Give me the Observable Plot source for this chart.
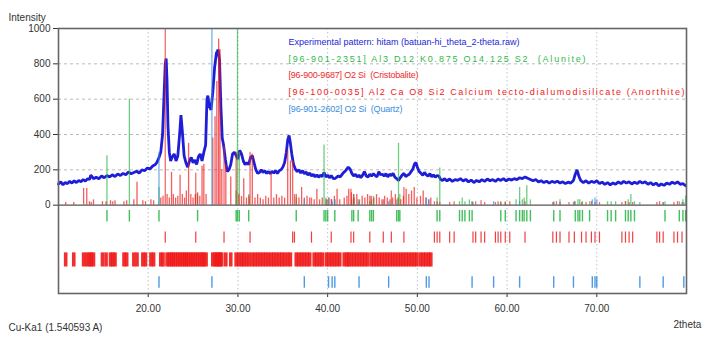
<!DOCTYPE html>
<html>
<head>
<meta charset="utf-8">
<script src="https://cdn.jsdelivr.net/npm/d3@7"></script>
<script src="https://cdn.jsdelivr.net/npm/@observablehq/plot@0.6"></script>
<style>
  body { margin: 0; background: #fff; }
  #chart { width: 708px; height: 340px; }
</style>
</head>
<body>
<div id="chart"></div>
<script>
// ---- data ----
const experimental = [
  [10.0,120],[10.25,132],[10.5,115],[10.75,128],[11.0,122],[11.25,135],[11.5,125],[11.75,138],[12.0,128],[12.25,140],
  [12.5,132],[12.75,145],[13.0,136],[13.25,150],[13.45,145],[13.6,170],[13.9,150],[14.2,158],[14.5,150],[14.8,165],
  [15.1,155],[15.4,168],[15.7,160],[16.0,172],[16.3,162],[16.6,176],[16.9,168],[17.2,180],[17.5,172],[17.8,188],
  [18.1,178],[18.4,185],[18.7,192],[19.0,182],[19.3,200],[19.6,195],[19.9,210],[20.2,205],[20.5,222],[20.8,230],
  [21.0,245],[21.2,270],[21.4,300],[21.6,400],[21.75,600],[21.9,800],[22.0,830],[22.1,700],[22.2,450],[22.35,300],
  [22.5,250],[22.7,275],[22.9,290],[23.1,250],[23.3,280],[23.5,400],[23.65,510],[23.8,420],[24.0,280],[24.2,240],
  [24.4,215],[24.6,250],[24.8,270],[25.0,240],[25.2,255],[25.4,230],[25.6,275],[25.8,290],[26.0,250],[26.2,300],
  [26.4,340],[26.55,600],[26.65,620],[26.8,560],[27.0,540],[27.2,640],[27.4,780],[27.6,860],[27.8,880],[27.95,820],
  [28.1,560],[28.25,380],[28.4,340],[28.6,260],[28.8,190],[29.0,200],[29.2,230],[29.4,290],[29.6,300],[29.8,280],
  [30.0,260],[30.2,310],[30.4,290],[30.6,250],[30.8,230],[31.0,240],[31.2,230],[31.4,270],[31.6,280],[31.8,240],
  [32.0,200],[32.2,180],[32.4,185],[32.6,200],[32.8,185],[33.0,195],[33.2,180],[33.4,190],[33.6,178],[33.8,192],
  [34.0,182],[34.2,195],[34.4,180],[34.6,195],[34.8,200],[35.0,215],[35.2,240],[35.4,300],[35.55,370],[35.7,395],
  [35.85,350],[36.0,290],[36.2,230],[36.4,205],[36.6,190],[36.8,200],[37.0,182],[37.2,195],[37.4,178],[37.6,188],
  [37.8,170],[38.0,182],[38.2,165],[38.4,175],[38.6,160],[38.8,172],[39.0,158],[39.2,170],[39.4,162],[39.6,185],
  [39.8,160],[40.0,170],[40.2,155],[40.4,168],[40.6,152],[40.8,150],[41.0,158],[41.2,165],[41.4,160],[41.7,180],
  [42.0,195],[42.3,215],[42.5,205],[42.7,180],[42.9,165],[43.1,175],[43.3,160],[43.5,170],[43.7,155],[43.9,170],
  [44.1,190],[44.3,165],[44.5,160],[44.7,175],[44.9,165],[45.1,178],[45.3,168],[45.5,160],[45.7,190],[45.9,172],
  [46.1,175],[46.3,165],[46.5,178],[46.7,160],[46.9,175],[47.1,168],[47.3,180],[47.5,158],[47.7,150],[47.9,140],
  [48.1,155],[48.3,170],[48.5,180],[48.7,162],[48.9,170],[49.1,175],[49.3,190],[49.5,205],[49.7,235],[49.85,240],
  [50.0,215],[50.2,190],[50.4,180],[50.6,170],[50.8,185],[51.0,172],[51.2,165],[51.4,178],[51.6,160],[51.8,172],
  [52.0,158],[52.2,168],[52.4,165],[52.6,145],[52.8,140],[53.0,150],[53.3,138],[53.6,148],[53.9,135],[54.2,145],
  [54.5,140],[54.8,150],[55.1,137],[55.4,146],[55.7,132],[56.0,142],[56.3,128],[56.6,140],[56.9,132],[57.2,145],
  [57.5,135],[57.8,148],[58.1,138],[58.4,145],[58.7,135],[59.0,148],[59.3,140],[59.6,150],[59.9,138],[60.2,148],
  [60.5,142],[60.8,150],[61.1,145],[61.4,155],[61.7,150],[62.0,160],[62.3,152],[62.6,145],[62.9,138],[63.2,145],
  [63.5,132],[63.8,138],[64.1,128],[64.4,136],[64.7,125],[65.0,135],[65.3,128],[65.6,136],[65.9,125],[66.2,132],
  [66.5,122],[66.8,130],[67.1,125],[67.4,140],[67.6,175],[67.8,200],[68.0,165],[68.2,140],[68.5,128],[68.8,138],
  [69.1,125],[69.4,135],[69.7,128],[70.0,138],[70.3,122],[70.6,130],[70.9,118],[71.2,128],[71.5,115],[71.8,126],
  [72.1,118],[72.4,132],[72.7,122],[73.0,135],[73.3,125],[73.6,132],[73.9,120],[74.2,130],[74.5,122],[74.8,135],
  [75.1,125],[75.4,132],[75.7,118],[76.0,128],[76.3,115],[76.6,125],[76.9,110],[77.2,120],[77.5,112],[77.8,125],
  [78.1,118],[78.4,130],[78.7,122],[79.0,132],[79.3,118],[79.6,122],[79.9,110]
];

// reference patterns: [2theta, relative intensity]
const alunite = [
  [15.4,280],[17.9,600],[21.2,100],[25.5,60],[29.8,80],[29.95,1000],[30.15,300],[31.2,60],[36.5,40],[39.6,340],
  [39.8,40],[40.0,30],[40.8,30],[42.7,30],[42.9,60],[43.4,30],[44.7,20],[44.9,30],[45.1,50],[47.7,30],
  [47.9,350],[48.05,60],[52.2,40],[52.5,210],[54.7,20],[55.0,40],[55.3,20],[55.8,30],[56.1,20],[59.3,20],
  [59.8,20],[61.0,30],[61.4,100],[61.7,30],[61.9,40],[62.2,110],[62.6,30],[65.2,20],[65.9,30],[67.6,20],
  [67.9,30],[68.1,30],[68.4,20],[69.2,20],[71.2,20],[71.6,20],[72.1,20],[73.2,20],[73.5,30],[73.8,60],
  [74.2,20],[77.6,20],[79.2,20],[79.6,30],[79.9,50]
];
const cristobalite = [
  [21.9,1000],[25.3,180],[28.45,330],[31.35,300],[36.1,250],[36.3,60],[38.2,40],[40.4,30],[42.6,90],[42.9,60],
  [44.7,50],[46.2,30],[47.1,80],[48.5,100],[51.9,20],[52.2,20],[52.5,15],[53.6,15],[54.1,20],[56.2,15],
  [56.5,20],[57.1,25],[57.5,15],[58.7,15],[59.0,20],[59.3,15],[59.8,15],[60.3,20],[62.0,20],[65.1,15],
  [65.5,20],[65.9,15],[66.9,15],[67.5,20],[68.3,15],[68.8,15],[69.4,20],[69.8,15],[70.3,15],[72.8,15],
  [73.2,20],[73.6,15],[74.0,15],[76.7,15],[77.0,20],[77.4,15],[78.6,15],[79.0,20],[79.5,15]
];
const anorthite = [
  [10.8,15],[11.7,15],[12.8,95],[13.15,95],[13.45,20],[13.65,15],[13.9,30],[14.9,20],[15.3,20],[15.8,25],
  [16.05,20],[16.3,25],[17.3,20],[17.6,25],[18.4,30],[18.75,130],[19.4,25],[19.7,20],[20.3,30],[20.6,25],
  [21.4,40],[21.65,50],[22.1,60],[22.35,40],[22.6,185],[22.8,60],[23.05,40],[23.3,50],[23.55,170],[23.8,60],
  [24.05,40],[24.25,80],[24.5,350],[24.75,60],[25.0,40],[25.25,60],[25.5,70],[25.75,50],[26.0,220],[26.2,230],
  [26.45,60],[27.2,380],[27.45,500],[27.65,700],[27.85,940],[28.0,880],[28.2,200],[28.65,230],[29.2,160],[29.8,300],
  [30.1,60],[30.4,50],[30.65,150],[30.95,40],[31.25,50],[31.6,290],[31.9,40],[32.2,60],[32.5,40],[32.8,30],
  [33.1,50],[33.4,40],[33.7,180],[34.0,40],[34.3,60],[34.6,40],[34.9,50],[35.2,40],[35.55,310],[35.85,250],
  [36.5,60],[36.8,40],[37.1,100],[37.4,40],[37.7,50],[38.0,40],[38.5,30],[38.8,90],[39.1,30],[39.4,40],
  [39.85,30],[40.15,40],[40.45,30],[40.75,50],[41.05,90],[41.35,30],[41.85,40],[42.15,50],[42.35,90],[42.65,70],
  [42.95,40],[43.25,60],[43.55,30],[43.85,50],[44.15,40],[44.45,60],[44.85,50],[45.15,40],[45.45,60],[45.75,40],
  [46.05,30],[46.35,50],[46.65,40],[46.95,30],[47.25,40],[47.55,60],[47.85,40],[48.15,30],[48.45,50],[48.75,90],
  [49.05,60],[49.35,80],[49.65,100],[49.95,40],[50.35,50],[50.65,80],[50.95,40],[51.25,30],[51.5,40]
];
const quartz = [
  [21.2,300],[27.1,1000],[37.4,30],[40.1,40],[40.5,20],[40.8,30],[43.5,20],[46.8,20],[51.0,40],[51.3,30],
  [56.1,20],[58.5,20],[61.4,20],[65.2,15],[67.4,15],[69.5,30],[69.8,40],[70.0,30],[74.8,15],[77.4,15],[79.7,15]
];

const legendLabels = [
  "Experimental pattern: hitam (batuan-hi_theta_2-theta.raw)",
  "[96-901-2351] Al3 D12 K0.875 O14.125 S2  (Alunite)",
  "[96-900-9687] O2 Si  (Cristobalite)",
  "[96-100-0035] Al2 Ca O8 Si2 Calcium tecto-dialumodisilicate (Anorthite)",
  "[96-901-2602] O2 Si  (Quartz)"
];
const legendWidths = [231, 297, 130, 396, 114];
const xTicks = [20, 30, 40, 50, 60, 70];
const yTicks = [0, 200, 400, 600, 800, 1000];
const yGrid = [200, 400, 600, 800];

// colours
const cExp = "#1e1ed8", cAlu = "#2fb84a", cCri = "#ee2b2b", cAno = "#f01818", cQtz = "#3a8ee0";
const legendColors = [cExp, cAlu, cCri, cAno, cQtz];

const rows = [
  {data: alunite, y1: -30, y2: -95, color: cAlu, w: 1.4},
  {data: cristobalite, y1: -152, y2: -215, color: cCri, w: 1.2},
  {data: anorthite, y1: -270, y2: -350, color: cAno, w: 3.6},
  {data: quartz, y1: -405, y2: -470, color: cQtz, w: 1.4}
];

const stickMarks = [
  [alunite, cAlu], [cristobalite, cCri], [anorthite, cAno], [quartz, cQtz]
].map(([data, color]) => Plot.ruleX(data, {
  x: d => d[0], y1: 0, y2: d => d[1], stroke: color, strokeWidth: 1.3, strokeOpacity: 0.7, clip: true
}));

const rowMarks = rows.map(r => Plot.ruleX(r.data, {
  x: d => d[0], y1: r.y1, y2: r.y2, stroke: r.color, strokeWidth: r.w, strokeOpacity: 0.9
}));

const legendMarks = legendLabels.map((t, i) => Plot.text([t], {
  frameAnchor: "top-left", dx: 230, dy: 10 + i * 16.75, textAnchor: "start",
  fill: legendColors[i], fontSize: 9
}));

const plot = Plot.plot({
  width: 708,
  height: 340,
  marginLeft: 58,
  marginRight: 22,
  marginTop: 28,
  marginBottom: 47,
  style: {fontFamily: "Liberation Sans, Arial, sans-serif", fontSize: "10px", color: "#333", background: "#fff"},
  x: {domain: [10, 80], ticks: xTicks, tickFormat: d3.format(".2f"), tickSize: 4, tickPadding: 7, label: null},
  y: {domain: [-500, 1000], ticks: yTicks, tickFormat: d => `${d}`, tickSize: 5, tickPadding: 3, label: null},
  marks: [
    Plot.ruleX(xTicks, {stroke: "#9ab", strokeOpacity: 0.7, strokeDasharray: "1.5,2.5"}),
    Plot.ruleY(yGrid, {stroke: "#aaa", strokeOpacity: 0.8, strokeDasharray: "3,3"}),
    Plot.line(experimental, {x: d => d[0], y: d => d[1], stroke: cExp, strokeWidth: 2.8, strokeLinejoin: "bevel"}),
    ...stickMarks,
    ...rowMarks,
    Plot.ruleY([0], {stroke: "#555", strokeWidth: 1.3}),
    Plot.frame({stroke: "#666", strokeWidth: 1.6}),
    ...legendMarks,
    Plot.text(["Intensity"], {frameAnchor: "top-left", dx: -50, dy: -15, textAnchor: "start", fill: "#333"}),
    Plot.text(["Cu-Ka1 (1.540593 A)"], {frameAnchor: "bottom-left", dx: -50, dy: 37, textAnchor: "start", fill: "#333"}),
    Plot.text(["2theta"], {frameAnchor: "bottom-right", dx: -13, dy: 34, textAnchor: "start", fill: "#333"})
  ]
});

// fit the legend lines to their widths in the reference
plot.querySelectorAll("text").forEach(el => {
  const i = legendLabels.indexOf(el.textContent);
  if (i >= 0) {
    el.setAttribute("textLength", legendWidths[i]);
    el.setAttribute("lengthAdjust", "spacing");
  }
});

document.getElementById("chart").appendChild(plot);
</script>
</body>
</html>
